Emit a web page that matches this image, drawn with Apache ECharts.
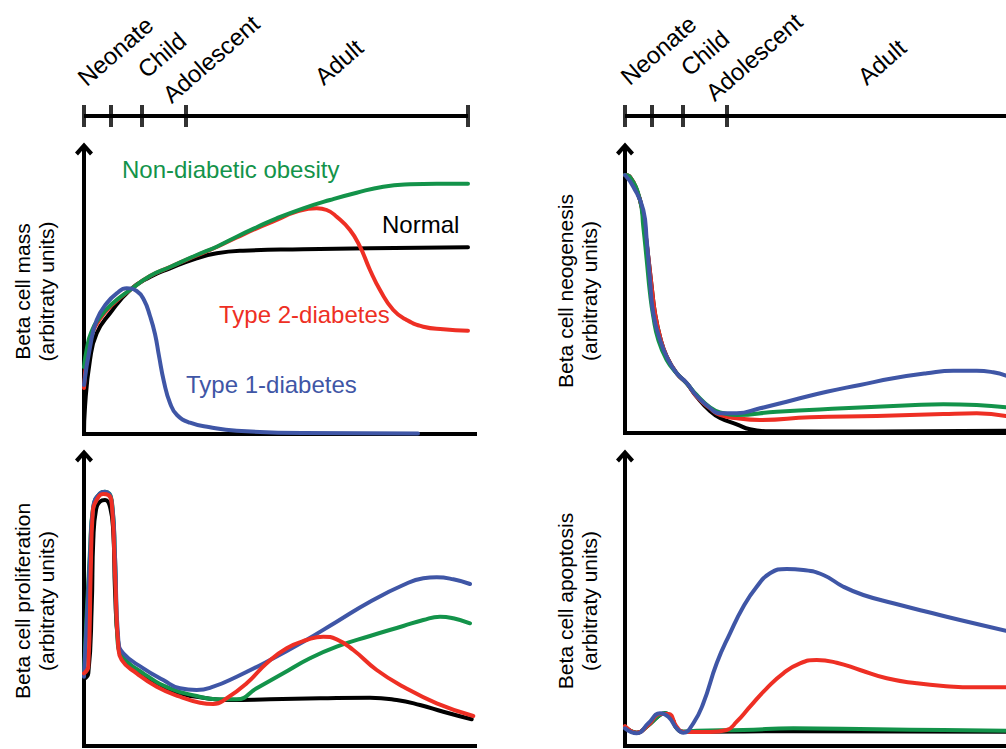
<!DOCTYPE html>
<html>
<head>
<meta charset="utf-8">
<script src="https://cdn.jsdelivr.net/npm/echarts@6/dist/echarts.min.js"></script>
<style>
html,body{margin:0;padding:0;background:#fff;}
#chart{width:1006px;height:749px;}
</style>
</head>
<body>
<div id="chart"></div>
<script>
// ---------- DATA ----------
// life-stage timeline (x in common time units)
const stages = ['Neonate', 'Child', 'Adolescent', 'Adult'];
const stageTicks = [0, 27, 58, 102, 384];

// series names
const seriesNames = ['Normal', 'Non-diabetic obesity', 'Type 2-diabetes', 'Type 1-diabetes'];

// Panel A: Beta cell mass
const massNormal = [[0,0],[1,27],[6,74],[12.7,100.7],[26,120.7],[46,144],[66,157],[86,165.7],[112.7,175.7],[132.7,180.7],[159,183.3],[219,184.7],[286,185.7],[384,186.7]];
const massObesity = [[0,67],[3,86],[7,101],[16,117],[29,131],[46,144],[66,158],[86,167],[112.7,179],[132.7,187.3],[152.7,197.3],[172.7,206.7],[192.7,215.7],[219.3,225.7],[246,234],[272.7,241.3],[299.3,247.3],[326,249.7],[352.7,250.3],[384,250.3]];
const massT2D = [[0,46],[3,78],[7,97],[16,115],[29,130],[46,144],[66,158],[86,167],[112.7,178.5],[132.7,187],[152.7,196.5],[172.7,205.7],[192.7,214],[212.7,222.3],[232.7,225.7],[242.7,224],[252.7,217.3],[266,204],[276,187.3],[286,164],[296,144],[309.3,124],[322.7,114],[339.3,107.3],[359.3,104.7],[384,103.3]];
const massT1D = [[0,49],[6,87],[12.7,114],[22.7,130.7],[32.7,140.7],[42.7,145.7],[52.7,143],[60,134],[66,118],[71,100],[75,78],[80,52],[86,31],[93,19],[106,11.3],[126,6.7],[152.7,3.3],[219,1],[334,0.5]];

// Panel B: Beta cell neogenesis
const neoNormal = [[0,258],[5,256],[11.7,243],[16.7,226],[20,203],[23.3,176],[26.7,146],[30,119.7],[35,96.3],[41.7,76.3],[51.7,59.7],[61.7,49.7],[71.7,36.3],[85,22],[95,15],[111.7,8.7],[125,3.7],[145,1.7],[250,1.5],[381,2.3]];
const neoObesity = [[0,258],[5,256],[15,233],[18.3,206.3],[21.7,173],[25,139.7],[28.3,116.3],[33.3,93],[41.7,73],[51.7,59.7],[61.7,49.7],[71.7,38],[85,25.7],[95,20.7],[111.7,18],[151.7,21.3],[218.3,24.7],[285,27.7],[318.3,28.7],[351.7,28],[381,25.7]];
const neoT2D = [[0,258],[5,256],[11.7,243],[16.7,226],[20,203],[23.3,176],[26.7,146],[30,119.7],[35,96.3],[41.7,76.3],[51.7,59.7],[61.7,49.7],[71.7,36.3],[85,24.7],[95,18],[111.7,14.7],[135,13],[185,15.7],[251.7,17],[318.3,19],[351.7,19.7],[381,17]];
const neoT1D = [[0,258],[8.3,246.3],[18.3,223],[21.7,193],[25,153],[28.3,119.7],[35,93],[43.3,73],[51.7,59.7],[61.7,50],[71.7,37],[85,25],[95,19.7],[111.7,19.7],[135,24.7],[168.3,33],[201.7,41.3],[235,48],[268.3,54.7],[301.7,59.7],[328.3,62.3],[351.7,62.3],[368.3,60.7],[381,57.3]];

// Panel C: Beta cell proliferation
const profNormal = [[0,67],[4.3,72.7],[7.7,139.3],[9.3,206],[12,236],[16,244.3],[21,246],[26,239.3],[29.3,212.7],[31,156],[34.3,102.7],[39.3,86],[52.7,76],[72.7,62.7],[96,52.7],[119.3,48.3],[146,46],[186,46.7],[236,47.7],[286,48.3],[312.7,46],[336,41],[359.3,34.3],[387.7,26.7]];
const profObesity = [[0,72.7],[6,196],[9.3,239.3],[16,252.7],[21,254.3],[27.7,246],[31,189],[33.5,106],[39.3,89.3],[59.3,72.7],[86,57.7],[112.7,50],[132.7,46.7],[152.7,46.7],[172.7,57.7],[199.3,72.7],[226,87.7],[252.7,99.3],[286,110],[319.3,120],[339.3,126],[356,129.3],[369.3,127.7],[386,122.7]];
const profT2D = [[0,72.7],[4.3,79.3],[6.7,172.7],[8.7,232.7],[12.7,246],[19.3,252],[24.3,251],[27.7,242.7],[31,172.7],[34.3,99.3],[37.7,86],[52.7,72.7],[72.7,59.3],[96,49.3],[116,43.3],[129.3,42],[142.7,47.7],[162.7,62.7],[182.7,82.7],[202.7,97.7],[222.7,106],[239.3,109.3],[252.7,106.7],[269.3,96],[292.7,76],[319.3,59.3],[352.7,42.7],[389.3,30]];
const profT1D = [[0,69.3],[6,189.3],[9.3,239.3],[16,252.7],[21,254.3],[27.7,244.3],[31,189.3],[34.3,106],[39.3,92.7],[59.3,77.7],[79.3,66],[96,57.7],[112.7,56],[129.3,59.3],[152.7,69.3],[186,86],[219.3,104.3],[252.7,124.3],[286,144.3],[319.3,161],[339.3,167.7],[352.7,168.7],[369.3,166.7],[386,162]];

// Panel D: Beta cell apoptosis
const apoNormal = [[0,19.3],[11.7,13.3],[21.7,19.3],[35,31],[40,32.7],[46.7,27.7],[51.7,17.7],[58.3,14.3],[71.7,14.3],[168.3,14.8],[381,14.3]];
const apoObesity = [[0,19.3],[11.7,13.3],[21.7,19.3],[35,31],[40,32.7],[46.7,27.7],[51.7,17.7],[58.3,14.3],[71.7,15.3],[118.3,16],[168.3,17.7],[251.7,16.7],[318.3,16],[381,15.3]];
const apoT2D = [[0,20],[11.7,13.3],[23.3,21],[35,32],[43.3,32],[51.7,19.3],[58.3,14],[85,14],[101.7,16],[111.7,24.3],[125,39.3],[141.7,57.7],[158.3,72.7],[175,82.7],[191.7,86],[211.7,83.3],[235,76],[261.7,67.7],[291.7,62.7],[318.3,60],[351.7,58.7],[381,58.7]];
const apoT1D = [[0,17.7],[11.7,12.7],[23.3,22.7],[35,32.7],[43.3,29.3],[51.7,17.7],[58.3,13.3],[68.3,22.7],[78.3,42.7],[91.7,82.7],[105,112.7],[118.3,139.3],[131.7,159.3],[145,172.7],[161.7,177],[178.3,176],[198.3,171],[218.3,159.3],[238.3,151],[268.3,142.7],[301.7,134.3],[335,126],[381,115.3]];

// axis titles
const yTitles = ['Beta cell mass', 'Beta cell neogenesis', 'Beta cell proliferation', 'Beta cell apoptosis'];
const yUnit = '(arbitraty units)';

// ---------- STYLE / LAYOUT ----------
const FONT = '"Liberation Sans", Arial, Helvetica, sans-serif';
const C = { black: '#000000', green: '#13934a', red: '#ee2f24', blue: '#3f56a6' };
const arrowPath = 'path://M9,0 L18,10 L15,13 L9,6 L3,13 L0,10 Z';

const panels = [
  { left: 84,  top: 149, width: 391, height: 285, ymax: 285, gap: 26,
    series: [[massNormal, C.black], [massT2D, C.red], [massObesity, C.green], [massT1D, C.blue]] },
  { left: 625, top: 149, width: 381, height: 284, ymax: 284, gap: 24,
    series: [[neoNormal, C.black], [neoT2D, C.red], [neoObesity, C.green], [neoT1D, C.blue]] },
  { left: 84,  top: 456, width: 391, height: 290, ymax: 290, gap: 26,
    series: [[profNormal, C.black], [profObesity, C.green], [profT1D, C.blue], [profT2D, C.red]] },
  { left: 625, top: 456, width: 381, height: 290, ymax: 290, gap: 24,
    series: [[apoNormal, C.black], [apoObesity, C.green], [apoT2D, C.red], [apoT1D, C.blue]] }
];
const colorName = {};
colorName[C.black] = seriesNames[0]; colorName[C.green] = seriesNames[1];
colorName[C.red] = seriesNames[2]; colorName[C.blue] = seriesNames[3];

const grid = [], xAxis = [], yAxis = [], series = [];
panels.forEach((p, i) => {
  grid.push({ left: p.left, top: p.top, width: p.width, height: p.height });
  xAxis.push({ type: 'value', gridIndex: i, min: 0, max: p.width,
    axisLine: { show: true, onZero: false, lineStyle: { color: '#000', width: 4, cap: 'square' } },
    axisTick: { show: false }, axisLabel: { show: false }, splitLine: { show: false } });
  yAxis.push({ type: 'value', gridIndex: i, min: 0, max: p.ymax,
    name: yTitles[i] + '\n' + yUnit, nameLocation: 'middle', nameGap: p.gap, nameRotate: 90,
    nameTextStyle: { fontFamily: FONT, fontSize: 21, color: '#000', lineHeight: 24, align: 'center' },
    axisLine: { show: true, symbol: ['none', arrowPath], symbolSize: [18, 13],
      lineStyle: { color: '#000', width: 4, cap: 'square' } },
    axisTick: { show: false }, axisLabel: { show: false }, splitLine: { show: false } });
  p.series.forEach(([d, col]) => {
    series.push({ type: 'line', name: colorName[col], xAxisIndex: i, yAxisIndex: i, data: d,
      smooth: 0.5, showSymbol: false, symbol: 'none', silent: true,
      lineStyle: { color: col, width: 4, cap: 'round', join: 'round' }, z: 3 });
  });
});

// timeline grids (above the top panels)
[{ left: 84, width: 391 }, { left: 625, width: 381 }].forEach((t) => {
  const gi = grid.length;
  grid.push({ left: t.left, top: 105, width: t.width, height: 22 });
  xAxis.push({ type: 'value', gridIndex: gi, min: 0, max: t.width, show: false });
  yAxis.push({ type: 'value', gridIndex: gi, min: -1, max: 1, show: false });
  series.push({ type: 'line', xAxisIndex: gi, yAxisIndex: gi, silent: true, showSymbol: false, symbol: 'none',
    data: [[stageTicks[0], 0], [stageTicks[stageTicks.length - 1], 0]],
    lineStyle: { color: '#000', width: 4 } });
  series.push({ type: 'scatter', xAxisIndex: gi, yAxisIndex: gi, silent: true,
    data: stageTicks.map(v => [v, 0]), symbol: 'rect', symbolSize: [4, 22],
    itemStyle: { color: '#000' } });
});

// stage labels (rotated) and in-plot legend labels
const stageAnchors = [
  [[89, 90], [149, 82], [174, 107], [326, 89]],
  [[632, 89], [692, 80], [717, 105], [869, 89]]
];
const graphic = [];
stageAnchors.forEach(set => set.forEach((pt, k) => {
  graphic.push({ type: 'text', x: pt[0], y: pt[1], rotation: 41 * Math.PI / 180, silent: true,
    style: { text: stages[k], fontFamily: FONT, fontSize: 24, fill: '#000', align: 'left', verticalAlign: 'bottom' } });
}));
const legendPos = [[122, 169, C.green, 1], [382, 224, C.black, 0], [219, 314, C.red, 2], [186, 384, C.blue, 3]];
legendPos.forEach(([x, y, col, k]) => {
  graphic.push({ type: 'text', x: x, y: y, silent: true,
    style: { text: seriesNames[k], fontFamily: FONT, fontSize: 24, fill: col, align: 'left', verticalAlign: 'middle' } });
});

const chart = echarts.init(document.getElementById('chart'), null, { renderer: 'svg' });
chart.setOption({
  animation: false,
  backgroundColor: '#fff',
  grid: grid, xAxis: xAxis, yAxis: yAxis, series: series, graphic: graphic
});
</script>
</body>
</html>
